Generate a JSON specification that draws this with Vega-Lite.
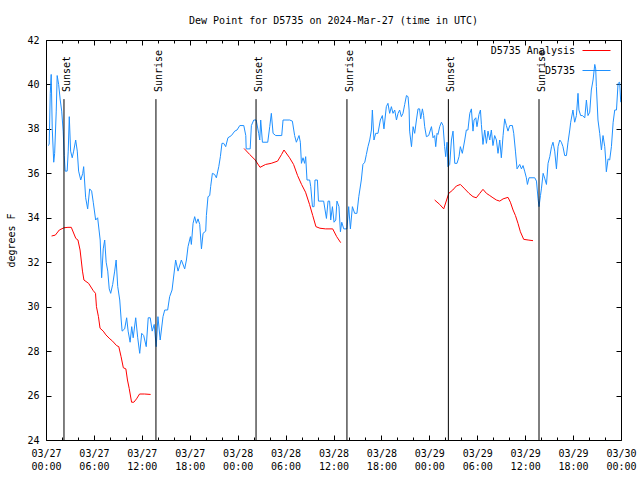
{
  "$schema": "https://vega.github.io/schema/vega-lite/v6.json",
  "width": 575,
  "height": 400,
  "autosize": "none",
  "padding": {"left": 46, "top": 40, "right": 19, "bottom": 40},
  "background": "white",
  "title": {"text": "Dew Point for D5735 on 2024-Mar-27 (time in UTC)", "font": "DejaVu Sans Mono", "fontSize": 10, "fontWeight": "normal", "color": "black", "offset": 9, "anchor": "middle"},
  "datasets": {
    "obs": [
      {"time":"2024-03-27T00:15:00Z","dewpoint":37.25},{"time":"2024-03-27T00:24:00Z","dewpoint":37.3},{"time":"2024-03-27T00:32:00Z","dewpoint":39.6},{"time":"2024-03-27T00:39:00Z","dewpoint":40.45},{"time":"2024-03-27T00:47:00Z","dewpoint":38.0},{"time":"2024-03-27T00:58:00Z","dewpoint":36.5},{"time":"2024-03-27T01:05:00Z","dewpoint":36.9},{"time":"2024-03-27T01:17:00Z","dewpoint":38.8},{"time":"2024-03-27T01:24:00Z","dewpoint":40.4},{"time":"2024-03-27T01:35:00Z","dewpoint":40.0},{"time":"2024-03-27T01:47:00Z","dewpoint":39.3},{"time":"2024-03-27T01:58:00Z","dewpoint":38.8},{"time":"2024-03-27T02:09:00Z","dewpoint":37.9},{"time":"2024-03-27T02:17:00Z","dewpoint":36.8},{"time":"2024-03-27T02:24:00Z","dewpoint":36.1},{"time":"2024-03-27T02:39:00Z","dewpoint":36.1},{"time":"2024-03-27T02:47:00Z","dewpoint":37.0},{"time":"2024-03-27T02:55:00Z","dewpoint":38.55},{"time":"2024-03-27T03:05:00Z","dewpoint":37.0},{"time":"2024-03-27T03:17:00Z","dewpoint":36.7},{"time":"2024-03-27T03:28:00Z","dewpoint":37.0},{"time":"2024-03-27T03:43:00Z","dewpoint":37.5},{"time":"2024-03-27T03:55:00Z","dewpoint":37.0},{"time":"2024-03-27T04:05:00Z","dewpoint":36.1},{"time":"2024-03-27T04:21:00Z","dewpoint":35.7},{"time":"2024-03-27T04:36:00Z","dewpoint":36.0},{"time":"2024-03-27T04:43:00Z","dewpoint":36.3},{"time":"2024-03-27T04:58:00Z","dewpoint":34.9},{"time":"2024-03-27T05:13:00Z","dewpoint":34.4},{"time":"2024-03-27T05:28:00Z","dewpoint":35.3},{"time":"2024-03-27T05:43:00Z","dewpoint":35.2},{"time":"2024-03-27T05:55:00Z","dewpoint":34.7},{"time":"2024-03-27T06:13:00Z","dewpoint":33.9},{"time":"2024-03-27T06:28:00Z","dewpoint":34.0},{"time":"2024-03-27T06:47:00Z","dewpoint":33.0},{"time":"2024-03-27T06:58:00Z","dewpoint":31.3},{"time":"2024-03-27T07:10:00Z","dewpoint":32.6},{"time":"2024-03-27T07:21:00Z","dewpoint":33.0},{"time":"2024-03-27T07:32:00Z","dewpoint":32.0},{"time":"2024-03-27T07:44:00Z","dewpoint":31.6},{"time":"2024-03-27T07:55:00Z","dewpoint":30.8},{"time":"2024-03-27T08:06:00Z","dewpoint":30.6},{"time":"2024-03-27T08:21:00Z","dewpoint":31.0},{"time":"2024-03-27T08:36:00Z","dewpoint":31.6},{"time":"2024-03-27T08:47:00Z","dewpoint":32.1},{"time":"2024-03-27T08:59:00Z","dewpoint":30.9},{"time":"2024-03-27T09:14:00Z","dewpoint":30.3},{"time":"2024-03-27T09:25:00Z","dewpoint":29.4},{"time":"2024-03-27T09:32:00Z","dewpoint":28.9},{"time":"2024-03-27T09:51:00Z","dewpoint":29.0},{"time":"2024-03-27T10:06:00Z","dewpoint":29.5},{"time":"2024-03-27T10:17:00Z","dewpoint":28.9},{"time":"2024-03-27T10:32:00Z","dewpoint":28.4},{"time":"2024-03-27T10:44:00Z","dewpoint":29.1},{"time":"2024-03-27T10:55:00Z","dewpoint":28.6},{"time":"2024-03-27T11:14:00Z","dewpoint":29.5},{"time":"2024-03-27T11:29:00Z","dewpoint":28.6},{"time":"2024-03-27T11:44:00Z","dewpoint":27.9},{"time":"2024-03-27T11:59:00Z","dewpoint":28.8},{"time":"2024-03-27T12:14:00Z","dewpoint":28.7},{"time":"2024-03-27T12:33:00Z","dewpoint":28.2},{"time":"2024-03-27T12:48:00Z","dewpoint":29.5},{"time":"2024-03-27T13:03:00Z","dewpoint":29.5},{"time":"2024-03-27T13:18:00Z","dewpoint":28.9},{"time":"2024-03-27T13:33:00Z","dewpoint":29.2},{"time":"2024-03-27T13:48:00Z","dewpoint":28.2},{"time":"2024-03-27T14:01:00Z","dewpoint":29.55},{"time":"2024-03-27T14:18:00Z","dewpoint":28.5},{"time":"2024-03-27T14:39:00Z","dewpoint":29.55},{"time":"2024-03-27T14:52:00Z","dewpoint":29.85},{"time":"2024-03-27T15:14:00Z","dewpoint":29.85},{"time":"2024-03-27T15:29:00Z","dewpoint":30.45},{"time":"2024-03-27T15:47:00Z","dewpoint":30.75},{"time":"2024-03-27T15:56:00Z","dewpoint":31.2},{"time":"2024-03-27T16:14:00Z","dewpoint":32.1},{"time":"2024-03-27T16:32:00Z","dewpoint":31.6},{"time":"2024-03-27T16:57:00Z","dewpoint":32.1},{"time":"2024-03-27T17:22:00Z","dewpoint":31.7},{"time":"2024-03-27T17:35:00Z","dewpoint":32.1},{"time":"2024-03-27T17:47:00Z","dewpoint":32.7},{"time":"2024-03-27T18:05:00Z","dewpoint":33.15},{"time":"2024-03-27T18:12:00Z","dewpoint":32.8},{"time":"2024-03-27T18:25:00Z","dewpoint":33.75},{"time":"2024-03-27T18:37:00Z","dewpoint":34.05},{"time":"2024-03-27T18:50:00Z","dewpoint":33.75},{"time":"2024-03-27T19:02:00Z","dewpoint":33.95},{"time":"2024-03-27T19:15:00Z","dewpoint":33.7},{"time":"2024-03-27T19:28:00Z","dewpoint":32.6},{"time":"2024-03-27T19:40:00Z","dewpoint":33.3},{"time":"2024-03-27T20:00:00Z","dewpoint":33.4},{"time":"2024-03-27T20:05:00Z","dewpoint":34.1},{"time":"2024-03-27T20:17:00Z","dewpoint":34.95},{"time":"2024-03-27T20:30:00Z","dewpoint":35.0},{"time":"2024-03-27T20:37:00Z","dewpoint":35.4},{"time":"2024-03-27T20:50:00Z","dewpoint":36.0},{"time":"2024-03-27T21:07:00Z","dewpoint":35.95},{"time":"2024-03-27T21:20:00Z","dewpoint":35.8},{"time":"2024-03-27T21:38:00Z","dewpoint":36.3},{"time":"2024-03-27T21:50:00Z","dewpoint":36.75},{"time":"2024-03-27T22:02:00Z","dewpoint":37.35},{"time":"2024-03-27T22:15:00Z","dewpoint":37.35},{"time":"2024-03-27T22:30:00Z","dewpoint":37.2},{"time":"2024-03-27T22:47:00Z","dewpoint":37.6},{"time":"2024-03-27T23:13:00Z","dewpoint":37.7},{"time":"2024-03-27T23:38:00Z","dewpoint":37.9},{"time":"2024-03-27T23:55:00Z","dewpoint":37.95},
      {"time":"2024-03-28T00:16:00Z","dewpoint":38.15},{"time":"2024-03-28T00:46:00Z","dewpoint":38.15},{"time":"2024-03-28T01:01:00Z","dewpoint":37.7},{"time":"2024-03-28T01:04:00Z","dewpoint":37.1},{"time":"2024-03-28T01:34:00Z","dewpoint":37.1},{"time":"2024-03-28T01:43:00Z","dewpoint":38.15},{"time":"2024-03-28T02:01:00Z","dewpoint":38.4},{"time":"2024-03-28T02:19:00Z","dewpoint":38.4},{"time":"2024-03-28T02:38:00Z","dewpoint":37.8},{"time":"2024-03-28T02:46:00Z","dewpoint":37.5},{"time":"2024-03-28T02:53:00Z","dewpoint":38.4},{"time":"2024-03-28T03:06:00Z","dewpoint":37.4},{"time":"2024-03-28T03:46:00Z","dewpoint":37.4},{"time":"2024-03-28T04:01:00Z","dewpoint":38.1},{"time":"2024-03-28T04:13:00Z","dewpoint":38.7},{"time":"2024-03-28T04:26:00Z","dewpoint":37.8},{"time":"2024-03-28T04:46:00Z","dewpoint":37.7},{"time":"2024-03-28T05:31:00Z","dewpoint":37.7},{"time":"2024-03-28T05:41:00Z","dewpoint":38.4},{"time":"2024-03-28T06:31:00Z","dewpoint":38.4},{"time":"2024-03-28T06:51:00Z","dewpoint":38.35},{"time":"2024-03-28T07:08:00Z","dewpoint":37.7},{"time":"2024-03-28T07:21:00Z","dewpoint":37.4},{"time":"2024-03-28T07:41:00Z","dewpoint":37.7},{"time":"2024-03-28T07:51:00Z","dewpoint":37.4},{"time":"2024-03-28T07:59:00Z","dewpoint":36.45},{"time":"2024-03-28T08:11:00Z","dewpoint":36.7},{"time":"2024-03-28T08:23:00Z","dewpoint":36.45},{"time":"2024-03-28T08:31:00Z","dewpoint":36.75},{"time":"2024-03-28T08:41:00Z","dewpoint":35.7},{"time":"2024-03-28T09:01:00Z","dewpoint":35.7},{"time":"2024-03-28T09:09:00Z","dewpoint":35.4},{"time":"2024-03-28T09:22:00Z","dewpoint":34.5},{"time":"2024-03-28T09:34:00Z","dewpoint":34.5},{"time":"2024-03-28T09:41:00Z","dewpoint":35.7},{"time":"2024-03-28T09:59:00Z","dewpoint":35.7},{"time":"2024-03-28T10:07:00Z","dewpoint":34.75},{"time":"2024-03-28T10:46:00Z","dewpoint":34.75},{"time":"2024-03-28T11:07:00Z","dewpoint":33.97},{"time":"2024-03-28T11:19:00Z","dewpoint":34.75},{"time":"2024-03-28T11:31:00Z","dewpoint":34.75},{"time":"2024-03-28T11:39:00Z","dewpoint":33.9},{"time":"2024-03-28T11:52:00Z","dewpoint":34.5},{"time":"2024-03-28T12:04:00Z","dewpoint":33.8},{"time":"2024-03-28T12:17:00Z","dewpoint":33.9},{"time":"2024-03-28T12:26:00Z","dewpoint":34.75},{"time":"2024-03-28T12:41:00Z","dewpoint":34.5},{"time":"2024-03-28T12:52:00Z","dewpoint":33.37},{"time":"2024-03-28T13:02:00Z","dewpoint":33.8},{"time":"2024-03-28T13:17:00Z","dewpoint":33.5},{"time":"2024-03-28T13:41:00Z","dewpoint":33.5},{"time":"2024-03-28T13:54:00Z","dewpoint":34.5},{"time":"2024-03-28T14:07:00Z","dewpoint":33.5},{"time":"2024-03-28T14:22:00Z","dewpoint":34.5},{"time":"2024-03-28T14:39:00Z","dewpoint":34.2},{"time":"2024-03-28T14:56:00Z","dewpoint":34.2},{"time":"2024-03-28T15:10:00Z","dewpoint":34.95},{"time":"2024-03-28T15:29:00Z","dewpoint":35.7},{"time":"2024-03-28T15:41:00Z","dewpoint":36.4},{"time":"2024-03-28T15:55:00Z","dewpoint":36.5},{"time":"2024-03-28T16:07:00Z","dewpoint":36.85},{"time":"2024-03-28T16:19:00Z","dewpoint":37.2},{"time":"2024-03-28T16:32:00Z","dewpoint":37.5},{"time":"2024-03-28T16:45:00Z","dewpoint":37.95},{"time":"2024-03-28T16:52:00Z","dewpoint":38.85},{"time":"2024-03-28T17:04:00Z","dewpoint":37.5},{"time":"2024-03-28T17:17:00Z","dewpoint":37.8},{"time":"2024-03-28T17:34:00Z","dewpoint":37.8},{"time":"2024-03-28T17:52:00Z","dewpoint":38.4},{"time":"2024-03-28T18:07:00Z","dewpoint":38.6},{"time":"2024-03-28T18:19:00Z","dewpoint":38.0},{"time":"2024-03-28T18:37:00Z","dewpoint":39.0},{"time":"2024-03-28T18:49:00Z","dewpoint":39.15},{"time":"2024-03-28T19:02:00Z","dewpoint":38.7},{"time":"2024-03-28T19:15:00Z","dewpoint":39.0},{"time":"2024-03-28T19:27:00Z","dewpoint":38.7},{"time":"2024-03-28T19:40:00Z","dewpoint":38.85},{"time":"2024-03-28T19:53:00Z","dewpoint":38.4},{"time":"2024-03-28T20:05:00Z","dewpoint":38.7},{"time":"2024-03-28T20:17:00Z","dewpoint":38.85},{"time":"2024-03-28T20:30:00Z","dewpoint":38.55},{"time":"2024-03-28T20:42:00Z","dewpoint":38.7},{"time":"2024-03-28T20:55:00Z","dewpoint":39.1},{"time":"2024-03-28T21:08:00Z","dewpoint":39.5},{"time":"2024-03-28T21:20:00Z","dewpoint":39.45},{"time":"2024-03-28T21:28:00Z","dewpoint":38.85},{"time":"2024-03-28T21:32:00Z","dewpoint":37.9},{"time":"2024-03-28T21:46:00Z","dewpoint":37.2},{"time":"2024-03-28T21:58:00Z","dewpoint":38.1},{"time":"2024-03-28T22:10:00Z","dewpoint":37.8},{"time":"2024-03-28T22:23:00Z","dewpoint":38.4},{"time":"2024-03-28T22:35:00Z","dewpoint":38.9},{"time":"2024-03-28T22:47:00Z","dewpoint":38.9},{"time":"2024-03-28T22:55:00Z","dewpoint":38.45},{"time":"2024-03-28T23:08:00Z","dewpoint":38.9},{"time":"2024-03-28T23:17:00Z","dewpoint":38.6},{"time":"2024-03-28T23:25:00Z","dewpoint":38.1},{"time":"2024-03-28T23:38:00Z","dewpoint":37.65},{"time":"2024-03-28T23:55:00Z","dewpoint":37.7},
      {"time":"2024-03-29T00:16:00Z","dewpoint":38.1},{"time":"2024-03-29T00:28:00Z","dewpoint":37.6},{"time":"2024-03-29T00:40:00Z","dewpoint":37.7},{"time":"2024-03-29T00:48:00Z","dewpoint":37.2},{"time":"2024-03-29T00:58:00Z","dewpoint":37.8},{"time":"2024-03-29T01:05:00Z","dewpoint":37.75},{"time":"2024-03-29T01:18:00Z","dewpoint":38.1},{"time":"2024-03-29T01:31:00Z","dewpoint":38.3},{"time":"2024-03-29T01:43:00Z","dewpoint":38.15},{"time":"2024-03-29T01:55:00Z","dewpoint":37.2},{"time":"2024-03-29T02:03:00Z","dewpoint":36.75},{"time":"2024-03-29T02:13:00Z","dewpoint":37.4},{"time":"2024-03-29T02:20:00Z","dewpoint":36.3},{"time":"2024-03-29T02:33:00Z","dewpoint":36.4},{"time":"2024-03-29T02:46:00Z","dewpoint":37.5},{"time":"2024-03-29T02:58:00Z","dewpoint":37.9},{"time":"2024-03-29T03:11:00Z","dewpoint":36.45},{"time":"2024-03-29T03:28:00Z","dewpoint":36.45},{"time":"2024-03-29T03:43:00Z","dewpoint":36.75},{"time":"2024-03-29T03:53:00Z","dewpoint":37.2},{"time":"2024-03-29T04:08:00Z","dewpoint":36.9},{"time":"2024-03-29T04:26:00Z","dewpoint":37.5},{"time":"2024-03-29T04:38:00Z","dewpoint":37.95},{"time":"2024-03-29T04:50:00Z","dewpoint":37.95},{"time":"2024-03-29T05:04:00Z","dewpoint":38.7},{"time":"2024-03-29T05:16:00Z","dewpoint":38.9},{"time":"2024-03-29T05:28:00Z","dewpoint":37.9},{"time":"2024-03-29T05:36:00Z","dewpoint":38.4},{"time":"2024-03-29T05:49:00Z","dewpoint":38.5},{"time":"2024-03-29T05:58:00Z","dewpoint":38.1},{"time":"2024-03-29T06:13:00Z","dewpoint":38.65},{"time":"2024-03-29T06:24:00Z","dewpoint":38.85},{"time":"2024-03-29T06:31:00Z","dewpoint":38.2},{"time":"2024-03-29T06:43:00Z","dewpoint":37.3},{"time":"2024-03-29T06:56:00Z","dewpoint":37.95},{"time":"2024-03-29T07:09:00Z","dewpoint":37.35},{"time":"2024-03-29T07:21:00Z","dewpoint":37.9},{"time":"2024-03-29T07:34:00Z","dewpoint":37.5},{"time":"2024-03-29T07:46:00Z","dewpoint":37.95},{"time":"2024-03-29T07:58:00Z","dewpoint":37.25},{"time":"2024-03-29T08:11:00Z","dewpoint":37.7},{"time":"2024-03-29T08:24:00Z","dewpoint":37.5},{"time":"2024-03-29T08:36:00Z","dewpoint":36.9},{"time":"2024-03-29T08:49:00Z","dewpoint":37.5},{"time":"2024-03-29T09:01:00Z","dewpoint":36.7},{"time":"2024-03-29T09:14:00Z","dewpoint":37.7},{"time":"2024-03-29T09:26:00Z","dewpoint":38.45},{"time":"2024-03-29T09:39:00Z","dewpoint":38.15},{"time":"2024-03-29T09:51:00Z","dewpoint":37.9},{"time":"2024-03-29T10:04:00Z","dewpoint":38.15},{"time":"2024-03-29T10:24:00Z","dewpoint":38.15},{"time":"2024-03-29T10:34:00Z","dewpoint":37.8},{"time":"2024-03-29T10:47:00Z","dewpoint":37.0},{"time":"2024-03-29T10:59:00Z","dewpoint":36.2},{"time":"2024-03-29T11:19:00Z","dewpoint":36.4},{"time":"2024-03-29T11:32:00Z","dewpoint":36.2},{"time":"2024-03-29T11:44:00Z","dewpoint":36.35},{"time":"2024-03-29T11:56:00Z","dewpoint":36.1},{"time":"2024-03-29T12:09:00Z","dewpoint":35.8},{"time":"2024-03-29T12:17:00Z","dewpoint":35.5},{"time":"2024-03-29T12:29:00Z","dewpoint":35.8},{"time":"2024-03-29T13:12:00Z","dewpoint":35.8},{"time":"2024-03-29T13:25:00Z","dewpoint":35.65},{"time":"2024-03-29T13:37:00Z","dewpoint":34.85},{"time":"2024-03-29T13:44:00Z","dewpoint":34.5},{"time":"2024-03-29T13:55:00Z","dewpoint":35.0},{"time":"2024-03-29T14:02:00Z","dewpoint":35.3},{"time":"2024-03-29T14:15:00Z","dewpoint":36.0},{"time":"2024-03-29T14:28:00Z","dewpoint":35.75},{"time":"2024-03-29T14:40:00Z","dewpoint":35.5},{"time":"2024-03-29T14:52:00Z","dewpoint":36.45},{"time":"2024-03-29T15:05:00Z","dewpoint":36.75},{"time":"2024-03-29T15:18:00Z","dewpoint":37.2},{"time":"2024-03-29T15:29:00Z","dewpoint":37.4},{"time":"2024-03-29T15:42:00Z","dewpoint":37.0},{"time":"2024-03-29T15:55:00Z","dewpoint":36.2},{"time":"2024-03-29T16:07:00Z","dewpoint":37.2},{"time":"2024-03-29T16:20:00Z","dewpoint":37.5},{"time":"2024-03-29T16:32:00Z","dewpoint":37.4},{"time":"2024-03-29T16:44:00Z","dewpoint":37.2},{"time":"2024-03-29T16:57:00Z","dewpoint":36.8},{"time":"2024-03-29T17:10:00Z","dewpoint":36.8},{"time":"2024-03-29T17:22:00Z","dewpoint":37.4},{"time":"2024-03-29T17:35:00Z","dewpoint":37.95},{"time":"2024-03-29T17:42:00Z","dewpoint":38.3},{"time":"2024-03-29T17:59:00Z","dewpoint":38.85},{"time":"2024-03-29T18:12:00Z","dewpoint":38.3},{"time":"2024-03-29T18:25:00Z","dewpoint":38.6},{"time":"2024-03-29T18:37:00Z","dewpoint":39.6},{"time":"2024-03-29T18:44:00Z","dewpoint":38.85},{"time":"2024-03-29T18:57:00Z","dewpoint":38.6},{"time":"2024-03-29T19:10:00Z","dewpoint":38.6},{"time":"2024-03-29T19:28:00Z","dewpoint":38.5},{"time":"2024-03-29T19:40:00Z","dewpoint":39.3},{"time":"2024-03-29T19:52:00Z","dewpoint":38.6},{"time":"2024-03-29T20:05:00Z","dewpoint":38.75},{"time":"2024-03-29T20:17:00Z","dewpoint":39.75},{"time":"2024-03-29T20:30:00Z","dewpoint":40.2},{"time":"2024-03-29T20:43:00Z","dewpoint":40.9},{"time":"2024-03-29T20:50:00Z","dewpoint":40.7},{"time":"2024-03-29T20:55:00Z","dewpoint":39.9},{"time":"2024-03-29T21:07:00Z","dewpoint":38.4},{"time":"2024-03-29T21:20:00Z","dewpoint":37.8},{"time":"2024-03-29T21:33:00Z","dewpoint":37.05},{"time":"2024-03-29T21:45:00Z","dewpoint":37.7},{"time":"2024-03-29T21:58:00Z","dewpoint":37.2},{"time":"2024-03-29T22:05:00Z","dewpoint":36.6},{"time":"2024-03-29T22:10:00Z","dewpoint":36.07},{"time":"2024-03-29T22:23:00Z","dewpoint":36.65},{"time":"2024-03-29T22:35:00Z","dewpoint":36.6},{"time":"2024-03-29T22:48:00Z","dewpoint":37.2},{"time":"2024-03-29T23:01:00Z","dewpoint":38.3},{"time":"2024-03-29T23:13:00Z","dewpoint":38.85},{"time":"2024-03-29T23:26:00Z","dewpoint":38.85},{"time":"2024-03-29T23:38:00Z","dewpoint":40.05},{"time":"2024-03-29T23:50:00Z","dewpoint":40.1},{"time":"2024-03-29T23:58:00Z","dewpoint":39.2}
    ],
    "analysis": [
      {"seg":1,"time":"2024-03-27T00:42:00Z","dewpoint":33.18},{"seg":1,"time":"2024-03-27T01:10:00Z","dewpoint":33.22},{"seg":1,"time":"2024-03-27T01:40:00Z","dewpoint":33.45},{"seg":1,"time":"2024-03-27T02:15:00Z","dewpoint":33.55},{"seg":1,"time":"2024-03-27T02:45:00Z","dewpoint":33.57},{"seg":1,"time":"2024-03-27T03:10:00Z","dewpoint":33.57},{"seg":1,"time":"2024-03-27T03:44:00Z","dewpoint":33.07},{"seg":1,"time":"2024-03-27T04:00:00Z","dewpoint":33.0},{"seg":1,"time":"2024-03-27T04:16:00Z","dewpoint":32.55},{"seg":1,"time":"2024-03-27T04:34:00Z","dewpoint":31.6},{"seg":1,"time":"2024-03-27T04:45:00Z","dewpoint":31.2},{"seg":1,"time":"2024-03-27T05:20:00Z","dewpoint":31.05},{"seg":1,"time":"2024-03-27T05:55:00Z","dewpoint":30.72},{"seg":1,"time":"2024-03-27T06:12:00Z","dewpoint":30.6},{"seg":1,"time":"2024-03-27T06:19:00Z","dewpoint":30.0},{"seg":1,"time":"2024-03-27T06:34:00Z","dewpoint":29.55},{"seg":1,"time":"2024-03-27T06:46:00Z","dewpoint":29.03},{"seg":1,"time":"2024-03-27T07:10:00Z","dewpoint":28.9},{"seg":1,"time":"2024-03-27T07:30:00Z","dewpoint":28.73},{"seg":1,"time":"2024-03-27T08:00:00Z","dewpoint":28.55},{"seg":1,"time":"2024-03-27T08:20:00Z","dewpoint":28.45},{"seg":1,"time":"2024-03-27T08:50:00Z","dewpoint":28.25},{"seg":1,"time":"2024-03-27T09:07:00Z","dewpoint":28.2},{"seg":1,"time":"2024-03-27T09:24:00Z","dewpoint":27.75},{"seg":1,"time":"2024-03-27T09:41:00Z","dewpoint":27.25},{"seg":1,"time":"2024-03-27T10:00:00Z","dewpoint":27.2},{"seg":1,"time":"2024-03-27T10:12:00Z","dewpoint":26.7},{"seg":1,"time":"2024-03-27T10:25:00Z","dewpoint":26.32},{"seg":1,"time":"2024-03-27T10:43:00Z","dewpoint":25.7},{"seg":1,"time":"2024-03-27T11:00:00Z","dewpoint":25.7},{"seg":1,"time":"2024-03-27T11:20:00Z","dewpoint":25.85},{"seg":1,"time":"2024-03-27T11:43:00Z","dewpoint":26.07},{"seg":1,"time":"2024-03-27T12:20:00Z","dewpoint":26.07},{"seg":1,"time":"2024-03-27T13:06:00Z","dewpoint":26.05},
      {"seg":2,"time":"2024-03-28T00:48:00Z","dewpoint":37.12},{"seg":2,"time":"2024-03-28T01:30:00Z","dewpoint":36.85},{"seg":2,"time":"2024-03-28T02:12:00Z","dewpoint":36.6},{"seg":2,"time":"2024-03-28T02:48:00Z","dewpoint":36.27},{"seg":2,"time":"2024-03-28T03:30:00Z","dewpoint":36.4},{"seg":2,"time":"2024-03-28T04:12:00Z","dewpoint":36.45},{"seg":2,"time":"2024-03-28T05:00:00Z","dewpoint":36.55},{"seg":2,"time":"2024-03-28T05:30:00Z","dewpoint":36.85},{"seg":2,"time":"2024-03-28T05:48:00Z","dewpoint":37.05},{"seg":2,"time":"2024-03-28T06:30:00Z","dewpoint":36.7},{"seg":2,"time":"2024-03-28T07:00:00Z","dewpoint":36.4},{"seg":2,"time":"2024-03-28T07:30:00Z","dewpoint":35.9},{"seg":2,"time":"2024-03-28T08:00:00Z","dewpoint":35.5},{"seg":2,"time":"2024-03-28T08:30:00Z","dewpoint":35.15},{"seg":2,"time":"2024-03-28T09:00:00Z","dewpoint":34.6},{"seg":2,"time":"2024-03-28T09:24:00Z","dewpoint":34.1},{"seg":2,"time":"2024-03-28T09:48:00Z","dewpoint":33.6},{"seg":2,"time":"2024-03-28T10:18:00Z","dewpoint":33.53},{"seg":2,"time":"2024-03-28T11:00:00Z","dewpoint":33.5},{"seg":2,"time":"2024-03-28T11:54:00Z","dewpoint":33.5},{"seg":2,"time":"2024-03-28T12:24:00Z","dewpoint":33.15},{"seg":2,"time":"2024-03-28T12:54:00Z","dewpoint":32.88},
      {"seg":3,"time":"2024-03-29T00:40:00Z","dewpoint":34.8},{"seg":3,"time":"2024-03-29T01:18:00Z","dewpoint":34.6},{"seg":3,"time":"2024-03-29T01:48:00Z","dewpoint":34.4},{"seg":3,"time":"2024-03-29T02:26:00Z","dewpoint":35.1},{"seg":3,"time":"2024-03-29T02:56:00Z","dewpoint":35.25},{"seg":3,"time":"2024-03-29T03:23:00Z","dewpoint":35.43},{"seg":3,"time":"2024-03-29T03:53:00Z","dewpoint":35.5},{"seg":3,"time":"2024-03-29T04:26:00Z","dewpoint":35.3},{"seg":3,"time":"2024-03-29T04:58:00Z","dewpoint":35.1},{"seg":3,"time":"2024-03-29T05:28:00Z","dewpoint":34.95},{"seg":3,"time":"2024-03-29T05:53:00Z","dewpoint":34.9},{"seg":3,"time":"2024-03-29T06:19:00Z","dewpoint":35.1},{"seg":3,"time":"2024-03-29T06:43:00Z","dewpoint":35.28},{"seg":3,"time":"2024-03-29T07:09:00Z","dewpoint":35.1},{"seg":3,"time":"2024-03-29T07:34:00Z","dewpoint":35.0},{"seg":3,"time":"2024-03-29T07:58:00Z","dewpoint":34.9},{"seg":3,"time":"2024-03-29T08:24:00Z","dewpoint":34.8},{"seg":3,"time":"2024-03-29T08:49:00Z","dewpoint":34.75},{"seg":3,"time":"2024-03-29T09:14:00Z","dewpoint":34.85},{"seg":3,"time":"2024-03-29T09:51:00Z","dewpoint":34.92},{"seg":3,"time":"2024-03-29T10:09:00Z","dewpoint":34.7},{"seg":3,"time":"2024-03-29T10:29:00Z","dewpoint":34.35},{"seg":3,"time":"2024-03-29T10:47:00Z","dewpoint":34.1},{"seg":3,"time":"2024-03-29T11:06:00Z","dewpoint":33.75},{"seg":3,"time":"2024-03-29T11:24:00Z","dewpoint":33.37},{"seg":3,"time":"2024-03-29T11:49:00Z","dewpoint":33.03},{"seg":3,"time":"2024-03-29T12:22:00Z","dewpoint":33.0},{"seg":3,"time":"2024-03-29T12:59:00Z","dewpoint":32.97}
    ],
    "sun": [
      {"event":"Sunset","time":"2024-03-27T02:15:00Z"},{"event":"Sunrise","time":"2024-03-27T13:46:00Z"},
      {"event":"Sunset","time":"2024-03-28T02:18:00Z"},{"event":"Sunrise","time":"2024-03-28T13:41:00Z"},
      {"event":"Sunset","time":"2024-03-29T02:23:00Z"},{"event":"Sunrise","time":"2024-03-29T13:44:00Z"}
    ]
  },
  "layer": [
    {
      "data": {"name": "obs"},
      "mark": {"type": "line", "strokeWidth": 1, "clip": true},
      "encoding": {
        "x": {"field": "time", "type": "temporal",
          "scale": {"domain": [{"year": 2024, "month": 3, "date": 27, "hours": 0, "utc": true}, {"year": 2024, "month": 3, "date": 30, "hours": 0, "utc": true}]},
          "axis": {"orient": "bottom", "title": null, "domain": false, "grid": false,
            "values": [{"year":2024,"month":3,"date":27,"hours":0,"utc":true},{"year":2024,"month":3,"date":27,"hours":6,"utc":true},{"year":2024,"month":3,"date":27,"hours":12,"utc":true},{"year":2024,"month":3,"date":27,"hours":18,"utc":true},{"year":2024,"month":3,"date":28,"hours":0,"utc":true},{"year":2024,"month":3,"date":28,"hours":6,"utc":true},{"year":2024,"month":3,"date":28,"hours":12,"utc":true},{"year":2024,"month":3,"date":28,"hours":18,"utc":true},{"year":2024,"month":3,"date":29,"hours":0,"utc":true},{"year":2024,"month":3,"date":29,"hours":6,"utc":true},{"year":2024,"month":3,"date":29,"hours":12,"utc":true},{"year":2024,"month":3,"date":29,"hours":18,"utc":true},{"year":2024,"month":3,"date":30,"hours":0,"utc":true}],
            "labelExpr": "[utcFormat(datum.value, '%m/%d'), utcFormat(datum.value, '%H:%M')]",
            "labelOverlap": false, "labelFlush": false,
            "labelPadding": 13, "labelLineHeight": 13.5,
            "tickSize": -5}},
        "y": {"field": "dewpoint", "type": "quantitative",
          "scale": {"domain": [24, 42], "nice": false, "zero": false},
          "axis": {"orient": "left", "title": "degrees F", "values": [24, 26, 28, 30, 32, 34, 36, 38, 40, 42], "tickSize": -5, "labelPadding": 12, "domain": false, "grid": false, "titlePadding": 10}},
        "color": {"datum": "D5735", "type": "nominal",
          "scale": {"domain": ["D5735 Analysis", "D5735"], "range": ["#ff0000", "#1e90ff"]},
          "legend": {"orient": "none", "legendX": 536, "legendY": -4, "title": null, "labelAlign": "right", "labelOffset": -36, "symbolType": "stroke", "symbolSize": 784, "symbolStrokeWidth": 1, "rowPadding": -7, "padding": 0}}
      }
    },
    {
      "data": {"name": "analysis"},
      "mark": {"type": "line", "strokeWidth": 1, "clip": true},
      "encoding": {
        "x": {"field": "time", "type": "temporal",
          "axis": {"orient": "top", "title": null, "labels": false, "domain": false, "grid": false, "tickSize": -5,
            "values": [{"year":2024,"month":3,"date":27,"hours":0,"utc":true},{"year":2024,"month":3,"date":27,"hours":6,"utc":true},{"year":2024,"month":3,"date":27,"hours":12,"utc":true},{"year":2024,"month":3,"date":27,"hours":18,"utc":true},{"year":2024,"month":3,"date":28,"hours":0,"utc":true},{"year":2024,"month":3,"date":28,"hours":6,"utc":true},{"year":2024,"month":3,"date":28,"hours":12,"utc":true},{"year":2024,"month":3,"date":28,"hours":18,"utc":true},{"year":2024,"month":3,"date":29,"hours":0,"utc":true},{"year":2024,"month":3,"date":29,"hours":6,"utc":true},{"year":2024,"month":3,"date":29,"hours":12,"utc":true},{"year":2024,"month":3,"date":29,"hours":18,"utc":true},{"year":2024,"month":3,"date":30,"hours":0,"utc":true}]}},
        "y": {"field": "dewpoint", "type": "quantitative",
          "axis": {"orient": "right", "title": null, "labels": false, "values": [24, 26, 28, 30, 32, 34, 36, 38, 40, 42], "tickSize": -5, "domain": false, "grid": false}},
        "color": {"datum": "D5735 Analysis", "type": "nominal"},
        "detail": {"field": "seg", "type": "nominal"}
      }
    },
    {
      "data": {"name": "sun"},
      "mark": {"type": "rule", "color": "black", "strokeWidth": 1},
      "encoding": {
        "x": {"field": "time", "type": "temporal",
          "axis": {"orient": "bottom", "title": null, "labels": false, "domain": false, "grid": false, "tickSize": -3,
            "values": [{"year":2024,"month":3,"date":27,"hours":2,"utc":true},{"year":2024,"month":3,"date":27,"hours":4,"utc":true},{"year":2024,"month":3,"date":27,"hours":8,"utc":true},{"year":2024,"month":3,"date":27,"hours":10,"utc":true},{"year":2024,"month":3,"date":27,"hours":14,"utc":true},{"year":2024,"month":3,"date":27,"hours":16,"utc":true},{"year":2024,"month":3,"date":27,"hours":20,"utc":true},{"year":2024,"month":3,"date":27,"hours":22,"utc":true},{"year":2024,"month":3,"date":28,"hours":2,"utc":true},{"year":2024,"month":3,"date":28,"hours":4,"utc":true},{"year":2024,"month":3,"date":28,"hours":8,"utc":true},{"year":2024,"month":3,"date":28,"hours":10,"utc":true},{"year":2024,"month":3,"date":28,"hours":14,"utc":true},{"year":2024,"month":3,"date":28,"hours":16,"utc":true},{"year":2024,"month":3,"date":28,"hours":20,"utc":true},{"year":2024,"month":3,"date":28,"hours":22,"utc":true},{"year":2024,"month":3,"date":29,"hours":2,"utc":true},{"year":2024,"month":3,"date":29,"hours":4,"utc":true},{"year":2024,"month":3,"date":29,"hours":8,"utc":true},{"year":2024,"month":3,"date":29,"hours":10,"utc":true},{"year":2024,"month":3,"date":29,"hours":14,"utc":true},{"year":2024,"month":3,"date":29,"hours":16,"utc":true},{"year":2024,"month":3,"date":29,"hours":20,"utc":true},{"year":2024,"month":3,"date":29,"hours":22,"utc":true}]}},
        "y": {"datum": 24, "type": "quantitative", "axis": null},
        "y2": {"datum": 39.34}
      }
    },
    {
      "data": {"name": "sun"},
      "mark": {"type": "text", "angle": 270, "align": "left", "baseline": "alphabetic", "dy": 6, "font": "DejaVu Sans Mono", "fontSize": 10, "color": "black"},
      "encoding": {
        "x": {"field": "time", "type": "temporal",
          "axis": {"orient": "top", "title": null, "labels": false, "domain": false, "grid": false, "tickSize": -3,
            "values": [{"year":2024,"month":3,"date":27,"hours":2,"utc":true},{"year":2024,"month":3,"date":27,"hours":4,"utc":true},{"year":2024,"month":3,"date":27,"hours":8,"utc":true},{"year":2024,"month":3,"date":27,"hours":10,"utc":true},{"year":2024,"month":3,"date":27,"hours":14,"utc":true},{"year":2024,"month":3,"date":27,"hours":16,"utc":true},{"year":2024,"month":3,"date":27,"hours":20,"utc":true},{"year":2024,"month":3,"date":27,"hours":22,"utc":true},{"year":2024,"month":3,"date":28,"hours":2,"utc":true},{"year":2024,"month":3,"date":28,"hours":4,"utc":true},{"year":2024,"month":3,"date":28,"hours":8,"utc":true},{"year":2024,"month":3,"date":28,"hours":10,"utc":true},{"year":2024,"month":3,"date":28,"hours":14,"utc":true},{"year":2024,"month":3,"date":28,"hours":16,"utc":true},{"year":2024,"month":3,"date":28,"hours":20,"utc":true},{"year":2024,"month":3,"date":28,"hours":22,"utc":true},{"year":2024,"month":3,"date":29,"hours":2,"utc":true},{"year":2024,"month":3,"date":29,"hours":4,"utc":true},{"year":2024,"month":3,"date":29,"hours":8,"utc":true},{"year":2024,"month":3,"date":29,"hours":10,"utc":true},{"year":2024,"month":3,"date":29,"hours":14,"utc":true},{"year":2024,"month":3,"date":29,"hours":16,"utc":true},{"year":2024,"month":3,"date":29,"hours":20,"utc":true},{"year":2024,"month":3,"date":29,"hours":22,"utc":true}]}},
        "y": {"datum": 39.66, "type": "quantitative", "axis": null},
        "text": {"field": "event"}
      }
    }
  ],
  "resolve": {"axis": {"x": "independent", "y": "independent"}},
  "config": {
    "font": "DejaVu Sans Mono",
    "view": {"stroke": "black", "strokeWidth": 1},
    "axis": {"labelFont": "DejaVu Sans Mono", "labelFontSize": 10, "labelColor": "black", "tickColor": "black", "titleFont": "DejaVu Sans Mono", "titleFontSize": 10, "titleFontWeight": "normal", "titleColor": "black"},
    "legend": {"labelFont": "DejaVu Sans Mono", "labelFontSize": 10, "labelColor": "black"}
  }
}
